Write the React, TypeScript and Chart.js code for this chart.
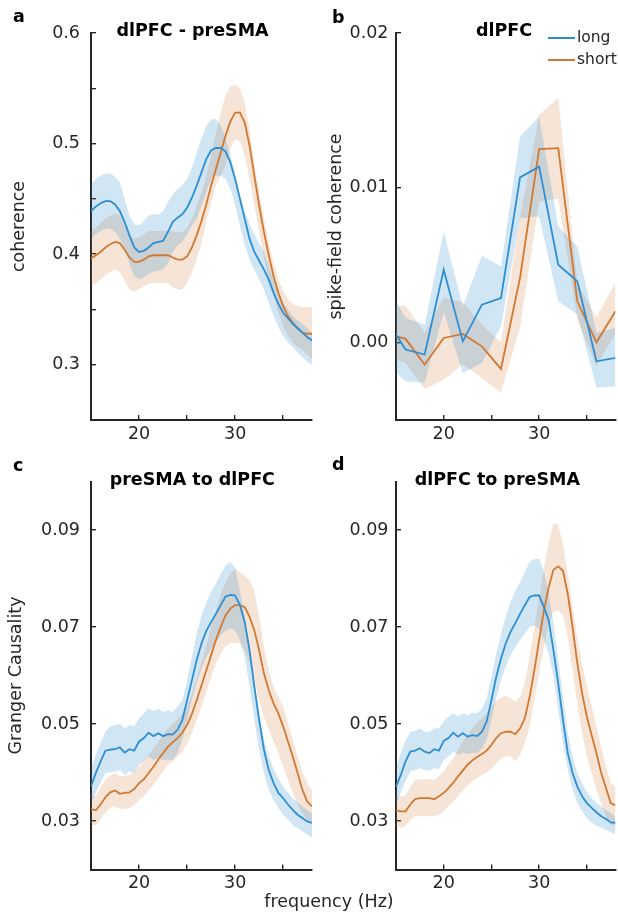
import React, { useEffect, useRef } from 'react';
import { Chart, registerables } from 'chart.js';

Chart.register(...registerables);

const FONT = '"DejaVu Sans", Verdana, sans-serif';
const INK = '#262626';
const BLUE = 'rgb(45,142,211)';
const ORANGE = 'rgb(209,121,50)';
const BLUE_BAND = 'rgba(45,142,211,0.22)';
const ORANGE_BAND = 'rgba(209,121,50,0.2)';

// ---------- data ----------
const freq05 = [15, 15.5, 16, 16.5, 17, 17.5, 18, 18.5, 19, 19.5, 20, 20.5, 21, 21.5, 22, 22.5, 23, 23.5, 24, 24.5, 25, 25.5, 26, 26.5, 27, 27.5, 28, 28.5, 29, 29.5, 30, 30.5, 31, 31.5, 32, 32.5, 33, 33.5, 34, 34.5, 35, 35.5, 36, 36.5, 37, 37.5, 38];
const freqB = [14, 16, 18, 20, 22, 24, 26, 28, 30, 32, 34, 36, 38];

const xTicks = [20, 25, 30, 35];
const xTickLabels = ['20', '', '30', ''];

// a: dlPFC - preSMA coherence
const aLong = [.439, .443, .446, .448, .448, .445, .439, .429, .417, .406,
  .402, .403, .406, .41, .411, .412, .42, .429, .433, .436,
  .442, .451, .462, .474, .486, .494, .496, .496, .493, .483,
  .468, .45, .432, .414, .402, .394, .386, .377, .365, .355,
  .347, .342, .337, .333, .329, .325, .322];
const aLongHi = [.463, .468, .471, .473, .473, .47, .465, .45, .435, .427,
  .426, .43, .435, .436, .436, .439, .447, .454, .459, .462,
  .468, .478, .492, .505, .516, .522, .522, .517, .505, .49,
  .472, .454, .439, .427, .418, .41, .402, .39, .377, .365,
  .356, .35, .344, .34, .337, .333, .329];
const aLongLo = [.414, .418, .421, .423, .423, .42, .414, .405, .391, .38,
  .377, .379, .382, .384, .385, .386, .391, .402, .408, .411,
  .418, .426, .432, .444, .456, .468, .471, .471, .468, .459,
  .444, .426, .408, .395, .386, .377, .368, .356, .344, .334,
  .326, .32, .316, .311, .307, .303, .3];
const aShort = [.396, .399, .402, .406, .409, .411, .41, .404, .397, .393,
  .393, .395, .398, .399, .399, .399, .399, .397, .395, .395,
  .398, .406, .417, .43, .445, .462, .477, .492, .507, .52,
  .528, .528, .519, .498, .471, .444, .42, .399, .38, .365,
  .353, .344, .338, .333, .329, .328, .328];
const aShortHi = [.421, .424, .428, .432, .435, .437, .435, .426, .417, .414,
  .415, .418, .421, .421, .421, .421, .421, .421, .42, .42,
  .424, .432, .444, .456, .471, .489, .51, .528, .543, .552,
  .553, .55, .537, .513, .483, .456, .432, .41, .392, .377,
  .367, .359, .355, .353, .352, .352, .352];
const aShortLo = [.371, .374, .377, .381, .384, .386, .384, .376, .368, .366,
  .368, .371, .373, .374, .374, .374, .374, .37, .368, .368,
  .374, .383, .395, .41, .429, .447, .462, .471, .48, .495,
  .504, .502, .489, .468, .444, .42, .397, .377, .362, .347,
  .335, .326, .32, .316, .313, .309, .305];
const aYTicks = [0.3, 0.35, 0.4, 0.45, 0.5, 0.55, 0.6];
const aYLabels = ['0.3', '', '0.4', '', '0.5', '', '0.6'];

// b: dlPFC spike-field coherence
const bLong = [0.0015, -0.00045, -0.00077, 0.00471, 0.00008, 0.00245, 0.00288, 0.01067, 0.01137, 0.00503, 0.00396, -0.00121, -0.00099];
const bLongHi = [0.0038, 0.00159, 0.00116, 0.00718, 0.00234, 0.00561, 0.00492, 0.01331, 0.0146, 0.0075, 0.00621, 0.00063, 0.00095];
const bLongLo = [-0.0014, -0.0025, -0.0026, 0.002, -0.00196, -0.00131, 0.00105, 0.00804, 0.00815, 0.00267, 0.00181, -0.00292, -0.00282];
const bShort = [0.00058, 0.00024, -0.00142, 0.0003, 0.00056, -0.00024, -0.0017, 0.0042, 0.0125, 0.01256, 0.00267, 0.00002, 0.00202];
const bShortHi = [0.0023, 0.0024, 0.00065, 0.0029, 0.0026, 0.00116, 0.0, 0.0081, 0.0147, 0.0158, 0.0039, 0.0016, 0.0039];
const bShortLo = [-0.0009, -0.0013, -0.003, -0.0024, -0.0014, -0.0023, -0.0032, 0.001, 0.0091, 0.0093, 0.0015, -0.0015, 0.0006];
const bYTicks = [0, 0.01, 0.02];
const bYLabels = ['0.00', '0.01', '0.02'];

// c: preSMA to dlPFC Granger causality
const cLong = [.0371, .0399, .0423, .0445, .0447, .0448, .0452, .0441, .0448, .0445,
  .0464, .0471, .0482, .0475, .0481, .0475, .0479, .0478, .0488, .0508,
  .0549, .059, .0632, .0666, .0692, .071, .0727, .0745, .0763, .0766,
  .0765, .0745, .071, .0652, .0577, .0508, .0447, .0405, .0378, .0358,
  .0347, .0334, .0323, .0313, .0306, .0299, .0296];
const cLongHi = [.0407, .0436, .0462, .0484, .0495, .0498, .05, .0491, .0498, .0495,
  .0512, .0522, .0532, .0527, .0532, .0525, .0529, .0525, .0536, .0549,
  .059, .0638, .0686, .0724, .0751, .0772, .0789, .081, .0827, .0834,
  .0822, .0775, .0721, .0659, .059, .0522, .0467, .0433, .0409, .0388,
  .0371, .0358, .0347, .0338, .033, .0323, .0316];
const cLongLo = [.0334, .0358, .0379, .0399, .04, .0402, .0405, .0395, .0402, .0399,
  .0416, .0423, .0433, .0426, .0429, .0426, .0427, .0426, .044, .0467,
  .0508, .0549, .0584, .0614, .0638, .0655, .0669, .0683, .0693, .0697,
  .0693, .0673, .0638, .0577, .0508, .0447, .0399, .0364, .0344, .0327,
  .0313, .0303, .0292, .0285, .0279, .0272, .0265];
const cShort = [.0325, .0322, .0334, .0349, .0359, .0363, .0356, .0358, .0359, .0366,
  .0378, .0386, .0399, .0412, .0427, .044, .0453, .0462, .0471, .0482,
  .0498, .0521, .0549, .058, .0611, .0642, .0673, .07, .0724, .0738,
  .0745, .0745, .0741, .0721, .0693, .0652, .0604, .057, .0542, .0522,
  .0495, .0464, .0433, .0399, .0364, .034, .033];
const cShortHi = [.0354, .0351, .0368, .0385, .0393, .0399, .0392, .0393, .0395, .0402,
  .0412, .0423, .0436, .045, .0464, .0477, .0491, .05, .051, .0521,
  .0536, .0563, .0594, .0628, .0662, .07, .0734, .0768, .0792, .081,
  .082, .0813, .0806, .0796, .0775, .0721, .0659, .0611, .0577, .0556,
  .0536, .0501, .0467, .0433, .0402, .0378, .0364];
const cShortLo = [.0292, .0292, .0303, .0318, .0327, .033, .0325, .0325, .0327, .0332,
  .0344, .0351, .0364, .0375, .0388, .0402, .0416, .0423, .0432, .0443,
  .046, .0481, .0508, .0536, .0566, .0597, .0625, .0645, .066, .0667,
  .0667, .0666, .0652, .0625, .059, .0549, .0515, .0488, .0464, .044,
  .0412, .0385, .0358, .0334, .0316, .0303, .0296];

// d: dlPFC to preSMA Granger causality
const dLong = [.0371, .0395, .0423, .0443, .0445, .045, .0443, .044, .0448, .0445,
  .0465, .0471, .0482, .0474, .0481, .0474, .0477, .0475, .0484, .0505,
  .0549, .0597, .0635, .0666, .069, .0708, .0727, .0745, .0762, .0765,
  .0765, .0741, .0714, .0652, .0584, .0508, .044, .0399, .0371, .0351,
  .0337, .0327, .0318, .031, .0304, .0297, .0296];
const dLongHi = [.0409, .044, .0467, .0484, .0486, .0491, .0484, .0484, .0491, .0491,
  .0505, .0515, .0522, .0516, .0522, .0518, .0523, .0522, .0532, .0553,
  .0597, .0645, .0686, .0721, .0751, .0775, .0792, .0813, .0834, .084,
  .084, .0816, .0768, .0707, .0632, .0556, .0481, .0433, .0399, .0378,
  .0361, .0347, .0337, .033, .0323, .0316, .031];
const dLongLo = [.0334, .0358, .0382, .0402, .0405, .0409, .0404, .0404, .0409, .0407,
  .0426, .0433, .0443, .0436, .0441, .0438, .044, .044, .045, .0467,
  .0508, .0553, .059, .0618, .0642, .0659, .0673, .0686, .07, .0703,
  .0697, .0673, .0645, .0597, .0529, .046, .0405, .0364, .0337, .032,
  .0306, .0297, .029, .0286, .0282, .0277, .0272];
const dShort = [.0322, .032, .032, .0334, .0345, .0347, .0347, .0347, .0345, .0351,
  .0358, .0368, .0379, .0392, .0404, .0416, .0425, .0432, .0438, .0445,
  .0457, .0471, .0481, .0484, .0484, .0479, .0491, .0512, .0556, .0611,
  .0673, .0734, .0782, .0818, .0825, .0816, .0768, .07, .0625, .0563,
  .0515, .0477, .044, .0399, .0368, .0337, .0332];
const dShortHi = [.0351, .0351, .0352, .0371, .0385, .0386, .0386, .0386, .0385, .0392,
  .0402, .0416, .0429, .0447, .0464, .0477, .0491, .0503, .0512, .0522,
  .0536, .0549, .0555, .0558, .0553, .0546, .0556, .0584, .0638, .07,
  .0762, .082, .0875, .0915, .091, .087, .081, .0741, .0679, .0625,
  .0577, .0536, .0495, .0453, .0412, .0378, .0371];
const dShortLo = [.0289, .0286, .0289, .0303, .031, .031, .031, .031, .031, .0313,
  .032, .033, .034, .0351, .0363, .0373, .0382, .0388, .0395, .04,
  .0407, .0419, .0429, .0433, .0434, .0423, .0436, .046, .0495, .0549,
  .0604, .0659, .0707, .0731, .0734, .0724, .0679, .0611, .0542, .0481,
  .0433, .0399, .0364, .0337, .031, .0293, .0289];
const gcYTicks = [0.03, 0.05, 0.07, 0.09];
const gcYLabels = ['0.03', '0.05', '0.07', '0.09'];

// ---------- layout / chart building ----------
type Series = { freq: number[]; long: number[]; longHi: number[]; longLo: number[]; short: number[]; shortHi: number[]; shortLo: number[] };
type Layout = {
  left: number; top: number; w: number; h: number;
  yMin: number; yMax: number; yTicks: number[]; yLabels: string[];
  yTitle: string; yTitlePad: number; yAxisWidth: number; yTickPad: number;
  xAxisHeight: number; xTickPad: number; padTop: number; padRight: number;
};

const pts = (xs: number[], ys: number[]) => xs.map((x, i) => ({ x, y: ys[i] }));

function labelFrom(values: number[], labels: string[], v: number) {
  const i = values.findIndex((t) => Math.abs(t - v) < 1e-9);
  return i >= 0 ? labels[i] : '';
}

function buildConfig(s: Series, L: Layout): any {
  const line = (data: number[], color: string) => ({
    data: pts(s.freq, data), borderColor: color, borderWidth: 1.8, pointRadius: 0, fill: false, tension: 0,
  });
  const edge = (data: number[], fill: any, bg: string) => ({
    data: pts(s.freq, data), borderColor: 'rgba(0,0,0,0)', borderWidth: 0.01, pointRadius: 0, fill, backgroundColor: bg, tension: 0,
  });
  const tickFont = { family: FONT, size: 17.5 };
  return {
    type: 'line',
    data: {
      datasets: [
        line(s.long, BLUE),
        line(s.short, ORANGE),
        edge(s.longLo, false, 'rgba(0,0,0,0)'),
        edge(s.longHi, '-1', BLUE_BAND),
        edge(s.shortLo, false, 'rgba(0,0,0,0)'),
        edge(s.shortHi, '-1', ORANGE_BAND),
      ],
    },
    options: {
      animation: false,
      responsive: false,
      devicePixelRatio: 1,
      events: [],
      layout: { padding: { left: 0, top: L.padTop, right: L.padRight, bottom: 0 } },
      plugins: {
        legend: { display: false },
        tooltip: { enabled: false },
        filler: { propagate: false, drawTime: 'beforeDatasetsDraw' },
      },
      scales: {
        x: {
          type: 'linear', min: 15, max: 38,
          afterBuildTicks: (sc: any) => { sc.ticks = xTicks.map((v) => ({ value: v })); },
          afterFit: (sc: any) => { sc.height = L.xAxisHeight; },
          ticks: {
            autoSkip: false, maxRotation: 0, padding: L.xTickPad, color: INK, font: tickFont,
            callback: (v: any) => labelFrom(xTicks, xTickLabels, Number(v)),
          },
          grid: { display: true, drawOnChartArea: false, drawTicks: true, tickLength: -5, color: INK, lineWidth: 1.4 },
          border: { display: true, color: INK, width: 2 },
        },
        y: {
          type: 'linear', min: L.yMin, max: L.yMax,
          afterBuildTicks: (sc: any) => { sc.ticks = L.yTicks.map((v) => ({ value: v })); },
          afterFit: (sc: any) => { sc.width = L.yAxisWidth; },
          ticks: {
            autoSkip: false, padding: L.yTickPad, color: INK, font: tickFont,
            callback: (v: any) => labelFrom(L.yTicks, L.yLabels, Number(v)),
          },
          grid: { display: true, drawOnChartArea: false, drawTicks: true, tickLength: -5, color: INK, lineWidth: 1.4 },
          border: { display: true, color: INK, width: 2 },
          title: {
            display: L.yTitle !== '', text: L.yTitle, color: INK,
            font: { family: FONT, size: 17.5 }, padding: { top: L.yTitlePad, bottom: 0 },
          },
        },
      },
    },
  };
}

function Panel({ s, L }: { s: Series; L: Layout }) {
  const ref = useRef<HTMLCanvasElement>(null);
  useEffect(() => {
    const chart = new Chart(ref.current as HTMLCanvasElement, buildConfig(s, L));
    return () => chart.destroy();
  }, []);
  return (
    <canvas
      ref={ref}
      width={L.w}
      height={L.h}
      style={{ position: 'absolute', left: L.left, top: L.top, width: L.w, height: L.h }}
    />
  );
}

const seriesA: Series = { freq: freq05, long: aLong, longHi: aLongHi, longLo: aLongLo, short: aShort, shortHi: aShortHi, shortLo: aShortLo };
const seriesB: Series = { freq: freqB, long: bLong, longHi: bLongHi, longLo: bLongLo, short: bShort, shortHi: bShortHi, shortLo: bShortLo };
const seriesC: Series = { freq: freq05, long: cLong, longHi: cLongHi, longLo: cLongLo, short: cShort, shortHi: cShortHi, shortLo: cShortLo };
const seriesD: Series = { freq: freq05, long: dLong, longHi: dLongHi, longLo: dLongLo, short: dShort, shortHi: dShortHi, shortLo: dShortLo };

const layoutA: Layout = { left: 0, top: 0, w: 320, h: 450, yMin: 0.25, yMax: 0.6, yTicks: aYTicks, yLabels: aYLabels, yTitle: 'coherence', yTitlePad: 8.5, yAxisWidth: 91, yTickPad: 16, xAxisHeight: 30, xTickPad: 8.5, padTop: 33, padRight: 8 };
const layoutB: Layout = { left: 320, top: 0, w: 298, h: 450, yMin: -0.005, yMax: 0.02, yTicks: bYTicks, yLabels: bYLabels, yTitle: 'spike-field coherence', yTitlePad: 6.2, yAxisWidth: 76, yTickPad: 12.5, xAxisHeight: 30, xTickPad: 8.5, padTop: 33, padRight: 2.5 };
const layoutC: Layout = { left: 0, top: 440, w: 320, h: 475, yMin: 0.02, yMax: 0.1, yTicks: gcYTicks, yLabels: gcYLabels, yTitle: 'Granger Causality', yTitlePad: 6.2, yAxisWidth: 91, yTickPad: 16, xAxisHeight: 45.5, xTickPad: 8, padTop: 41.5, padRight: 8 };
const layoutD: Layout = { left: 320, top: 440, w: 298, h: 475, yMin: 0.02, yMax: 0.1, yTicks: gcYTicks, yLabels: gcYLabels, yTitle: '', yTitlePad: 0, yAxisWidth: 76, yTickPad: 12.5, xAxisHeight: 45.5, xTickPad: 8, padTop: 41.5, padRight: 2.5 };

const txt = (size: number, bold: boolean): React.CSSProperties => ({
  position: 'absolute', fontFamily: FONT, fontSize: size, fontWeight: bold ? 'bold' : 'normal',
  lineHeight: 1, whiteSpace: 'nowrap', color: bold ? '#000' : INK,
});

export default function App() {
  return (
    <div style={{ position: 'absolute', left: 0, top: 0, width: 618, height: 915, background: '#fff', overflow: 'hidden' }}>
      <Panel s={seriesA} L={layoutA} />
      <Panel s={seriesB} L={layoutB} />
      <Panel s={seriesC} L={layoutC} />
      <Panel s={seriesD} L={layoutD} />

      <div style={{ ...txt(17.5, true), left: 13, top: 8 }}>a</div>
      <div style={{ ...txt(17.5, true), left: 332, top: 9 }}>b</div>
      <div style={{ ...txt(17.5, true), left: 13, top: 457 }}>c</div>
      <div style={{ ...txt(17.5, true), left: 332, top: 456 }}>d</div>

      <div style={{ ...txt(17.5, true), left: 192.5, top: 22, transform: 'translateX(-50%)' }}>dlPFC - preSMA</div>
      <div style={{ ...txt(17.5, true), left: 504, top: 21.5, transform: 'translateX(-50%)' }}>dlPFC</div>
      <div style={{ ...txt(17.5, true), left: 192.3, top: 470.5, transform: 'translateX(-50%)' }}>preSMA to dlPFC</div>
      <div style={{ ...txt(17.5, true), left: 497.3, top: 470.5, transform: 'translateX(-50%)' }}>dlPFC to preSMA</div>

      <div style={{ position: 'absolute', left: 548, top: 37, width: 27, height: 1.8, background: BLUE }} />
      <div style={{ position: 'absolute', left: 548, top: 59, width: 27, height: 1.8, background: ORANGE }} />
      <div style={{ ...txt(15.5, false), left: 577, top: 30 }}>long</div>
      <div style={{ ...txt(15.5, false), left: 577, top: 52 }}>short</div>

      <div style={{ ...txt(17.5, false), left: 329, top: 893, transform: 'translateX(-50%)' }}>frequency (Hz)</div>
    </div>
  );
}
